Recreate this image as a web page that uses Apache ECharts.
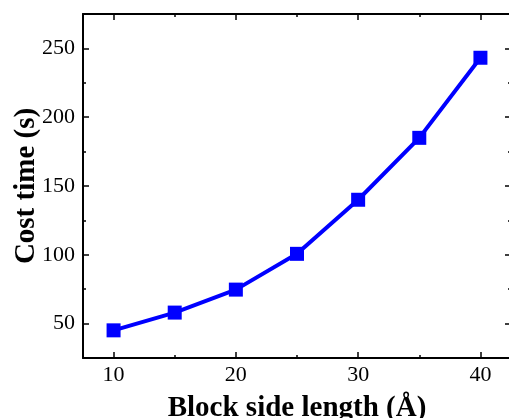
<!DOCTYPE html>
<html>
<head>
<meta charset="utf-8">
<script src="https://cdn.jsdelivr.net/npm/echarts@6/dist/echarts.min.js"></script>
<style>html,body{margin:0;padding:0;background:#fff;}#c{width:509px;height:418px;}</style>
</head>
<body>
<div id="c"></div>
<script>
const blockSide = [10, 15, 20, 25, 30, 35, 40];
const costTime = [45.1, 58, 74.7, 100.7, 140, 185, 243.2];
const xMajorTicks = [10, 20, 30, 40];
const xMinorTicks = [15, 25, 35];
const yMajorTicks = [50, 100, 150, 200, 250];
const yMinorTicks = [75, 125, 175, 225];
const xTitle = 'Block side length (Å)';
const yTitle = 'Cost time (s)';

const font = 'Liberation Serif';
const axisLineStyle = {color: '#000', width: 2};
function xAx(pos, ticks, len, labels, line, name) {
  return {
    type: 'value', position: pos, min: 7.5, max: 42.5,
    axisLine: {show: line, onZero: false, lineStyle: axisLineStyle},
    axisTick: {show: true, inside: true, length: len, customValues: ticks, lineStyle: {color: '#000', width: 1.5}},
    axisLabel: {show: labels, customValues: ticks, fontFamily: font, fontSize: 22, color: '#000', margin: 6},
    splitLine: {show: false},
    name: name || '', nameLocation: 'middle', nameGap: 36, nameMoveOverlap: false,
    nameTextStyle: {fontFamily: font, fontSize: 29, fontWeight: 'bold', color: '#000'}
  };
}
function yAx(pos, ticks, len, labels, line, name) {
  return {
    type: 'value', position: pos, min: 25, max: 275,
    axisLine: {show: line, onZero: false, lineStyle: axisLineStyle},
    axisTick: {show: true, inside: true, length: len, customValues: ticks, lineStyle: {color: '#000', width: 1.5}},
    axisLabel: {show: labels, customValues: ticks, fontFamily: font, fontSize: 22, color: '#000', margin: 8},
    splitLine: {show: false},
    name: name || '', nameLocation: 'middle', nameGap: 42, nameMoveOverlap: false,
    nameTextStyle: {fontFamily: font, fontSize: 29, fontWeight: 'bold', color: '#000'}
  };
}
const chart = echarts.init(document.getElementById('c'));
chart.setOption({
  animation: false,
  backgroundColor: '#fff',
  grid: {left: 83, top: 14, width: 428, height: 344, containLabel: false, outerBoundsMode: 'none'},
  xAxis: [
    xAx('bottom', xMajorTicks, 6, true, true, xTitle),
    xAx('bottom', xMinorTicks, 3, false, false),
    xAx('top', xMajorTicks, 6, false, true),
    xAx('top', xMinorTicks, 3, false, false)
  ],
  yAxis: [
    yAx('left', yMajorTicks, 6, true, true, yTitle),
    yAx('left', yMinorTicks, 3, false, false),
    yAx('right', yMajorTicks, 6, false, false),
    yAx('right', yMinorTicks, 3, false, false)
  ],
  series: [{
    type: 'line',
    data: blockSide.map((x, i) => [x, costTime[i]]),
    xAxisIndex: 0, yAxisIndex: 0,
    symbol: 'rect', symbolSize: 14,
    lineStyle: {color: '#0000ff', width: 4},
    itemStyle: {color: '#0000ff'},
    clip: false
  }]
});
</script>
</body>
</html>
